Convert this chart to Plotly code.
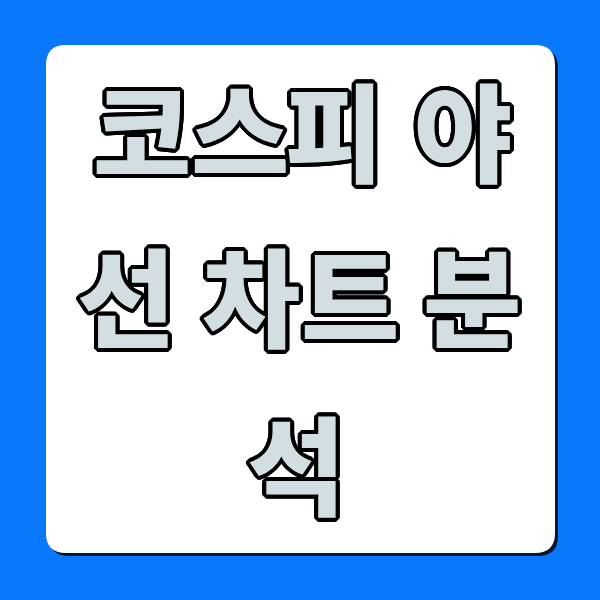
import plotly.graph_objects as go

# title of the thumbnail, one entry per line
title_lines = ["코스피 야", "선 차트 분", "석"]

# layout: vertical centre of each line and horizontal centre of each glyph
line_centers = [127, 292, 460]
glyph_x = [
    [142, 240, 334, None, 463],
    [126, None, 251, 350, None, 472],
    [296],
]

bg_blue = "#0A78FA"
card_fill = "#FFFFFF"
text_fill = "#D2DEE2"


def rounded_rect(x0, y0, x1, y1, r):
    return (f"M {x0+r},{y0} L {x1-r},{y0} Q {x1},{y0} {x1},{y0+r} "
            f"L {x1},{y1-r} Q {x1},{y1} {x1-r},{y1} L {x0+r},{y1} "
            f"Q {x0},{y1} {x0},{y1-r} L {x0},{y0+r} Q {x0},{y0} {x0+r},{y0} Z")


# black outline built from stacked text shadows
w = 4
offs = []
for dx in range(-w, w + 1):
    for dy in range(-w, w + 1):
        if dx * dx + dy * dy <= w * w + 1 and (dx or dy):
            offs.append(f"{dx}px {dy}px 0 #000")
outline = ", ".join(offs)

fig = go.Figure()

shapes = [
    dict(type="path", path=rounded_rect(49, 48, 558, 556, 20),
         fillcolor="rgba(0,0,0,0.8)", line=dict(width=0), layer="below"),
    dict(type="path", path=rounded_rect(46, 45, 555, 553, 20),
         fillcolor=card_fill, line=dict(width=0), layer="below"),
]

annotations = []
for txt, yc, xs in zip(title_lines, line_centers, glyph_x):
    for ch, xc in zip(txt, xs):
        if ch == " ":
            continue
        annotations.append(dict(
            x=xc, y=yc, xref="x", yref="y", text=ch, showarrow=False,
            xanchor="center", yanchor="middle",
            font=dict(family="Noto Sans CJK KR", size=107, color=text_fill,
                      weight=900, shadow=outline),
        ))

fig.update_layout(
    width=600, height=600,
    margin=dict(l=0, r=0, t=0, b=0),
    paper_bgcolor=bg_blue, plot_bgcolor=bg_blue,
    xaxis=dict(range=[0, 600], visible=False, fixedrange=True),
    yaxis=dict(range=[600, 0], visible=False, fixedrange=True),
    shapes=shapes, annotations=annotations, showlegend=False,
)

fig.write_html("out.html", config=dict(displayModeBar=False),
               post_script="document.body.style.margin='0';")
